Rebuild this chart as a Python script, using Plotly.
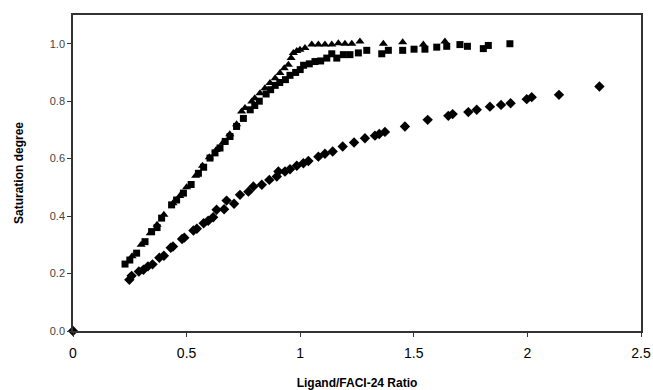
import plotly.graph_objects as go

# Diamonds (lower series)
dia_x = [0.0, 0.248, 0.258, 0.29, 0.31, 0.33, 0.35, 0.38, 0.40, 0.43, 0.44, 0.48, 0.49, 0.53, 0.545, 0.575, 0.595,
         0.617, 0.632, 0.665, 0.676, 0.709, 0.735, 0.772, 0.794, 0.831, 0.864, 0.897, 0.904, 0.933, 0.955,
         0.985, 1.014, 1.036, 1.080, 1.109, 1.143, 1.187, 1.237, 1.285, 1.329, 1.348, 1.373, 1.461,
         1.561, 1.652, 1.671, 1.740, 1.777, 1.835, 1.884, 1.926, 1.997, 2.019, 2.139, 2.317]
dia_y = [0.0, 0.178, 0.192, 0.207, 0.213, 0.225, 0.232, 0.255, 0.262, 0.29, 0.294, 0.32, 0.325, 0.35, 0.356, 0.375, 0.384,
         0.396, 0.422, 0.424, 0.454, 0.443, 0.474, 0.485, 0.503, 0.509, 0.526, 0.538, 0.555, 0.555, 0.563,
         0.575, 0.584, 0.592, 0.607, 0.617, 0.625, 0.642, 0.656, 0.671, 0.680, 0.686, 0.693, 0.712,
         0.735, 0.749, 0.755, 0.762, 0.770, 0.781, 0.787, 0.793, 0.807, 0.814, 0.822, 0.851]

# Squares
sq_x = [0.229, 0.25, 0.28, 0.317, 0.346, 0.37, 0.39, 0.434, 0.456, 0.486, 0.52, 0.552, 0.575, 0.603, 0.625,
        0.647, 0.67, 0.691, 0.72, 0.75, 0.78, 0.80, 0.82, 0.85, 0.87, 0.89, 0.91, 0.935, 0.955, 0.98, 1.0,
        1.015, 1.04, 1.065, 1.09, 1.117, 1.139, 1.161, 1.19, 1.219, 1.256, 1.293, 1.359, 1.388, 1.451,
        1.501, 1.549, 1.601, 1.645, 1.703, 1.736, 1.806, 1.828, 1.923]
sq_y = [0.233, 0.247, 0.271, 0.311, 0.346, 0.36, 0.393, 0.439, 0.456, 0.48, 0.51, 0.549, 0.57, 0.602, 0.62,
        0.637, 0.66, 0.677, 0.712, 0.74, 0.77, 0.785, 0.80, 0.825, 0.84, 0.855, 0.865, 0.875, 0.89, 0.90, 0.91,
        0.925, 0.93, 0.938, 0.94, 0.95, 0.965, 0.95, 0.962, 0.962, 0.968, 0.977, 0.965, 0.977, 0.977,
        0.981, 0.981, 0.988, 0.991, 0.997, 0.991, 0.983, 0.994, 1.0]

# Triangles
tri_x = [0.26, 0.30, 0.34, 0.37, 0.40, 0.44, 0.47, 0.50, 0.54, 0.57, 0.60, 0.63, 0.66, 0.69, 0.72, 0.742,
         0.757, 0.787, 0.80, 0.823, 0.845, 0.867, 0.89, 0.911, 0.93, 0.948, 0.96, 0.97, 0.985, 0.999, 1.021,
         1.051, 1.08, 1.109, 1.139, 1.168, 1.197, 1.227, 1.263, 1.366, 1.451, 1.542, 1.637]
tri_y = [0.26, 0.30, 0.34, 0.37, 0.405, 0.445, 0.47, 0.50, 0.54, 0.575, 0.605, 0.63, 0.655, 0.685, 0.72, 0.764,
         0.776, 0.799, 0.81, 0.828, 0.845, 0.863, 0.88, 0.898, 0.915, 0.927, 0.95, 0.968, 0.975, 0.979, 0.985,
         0.997, 0.997, 0.997, 0.997, 1.002, 1.0, 1.0, 1.008, 1.0, 1.005, 0.997, 1.008]

x_ticks = [0, 0.5, 1, 1.5, 2, 2.5]
x_tick_labels = ["0", "0.5", "1", "1.5", "2", "2.5"]
y_ticks = [0.0, 0.2, 0.4, 0.6, 0.8, 1.0]
y_tick_labels = ["0.0", "0.2", "0.4", "0.6", "0.8", "1.0"]

fig = go.Figure()
fig.add_trace(go.Scatter(x=dia_x, y=dia_y, mode="markers", cliponaxis=False,
                         marker=dict(symbol="diamond", size=8, color="black")))
fig.add_trace(go.Scatter(x=sq_x, y=sq_y, mode="markers", cliponaxis=False,
                         marker=dict(symbol="square", size=7, color="black")))
fig.add_trace(go.Scatter(x=tri_x, y=tri_y, mode="markers", cliponaxis=False,
                         marker=dict(symbol="triangle-up", size=8, color="black")))

fig.update_layout(
    width=653, height=390,
    margin=dict(l=73, r=12, t=15, b=59),
    paper_bgcolor="white", plot_bgcolor="white",
    showlegend=False,
    font=dict(family="Liberation Sans, Arial, sans-serif", color="black"),
)
fig.update_xaxes(
    range=[0, 2.5], tickvals=x_ticks, ticktext=x_tick_labels, automargin=False,
    showgrid=False, zeroline=False, showline=True, linecolor="#333", linewidth=1.5, mirror=True,
    ticks="outside", ticklen=4, tickcolor="#333", ticklabelstandoff=4,
    tickfont=dict(size=14, color="black"),
    title=dict(text="<b>Ligand/FACI-24 Ratio</b>", font=dict(size=12), standoff=20),
)
fig.update_yaxes(
    range=[0, 1.1], tickvals=y_ticks, ticktext=y_tick_labels, automargin=False,
    showgrid=False, zeroline=False, showline=True, linecolor="#333", linewidth=1.5, mirror=True,
    ticks="outside", ticklen=4, tickcolor="#333",
    tickfont=dict(size=11, color="#444"),
    title=dict(text="<b>Saturation degree</b>", font=dict(size=12), standoff=24),
)

fig.write_html("out.html")
